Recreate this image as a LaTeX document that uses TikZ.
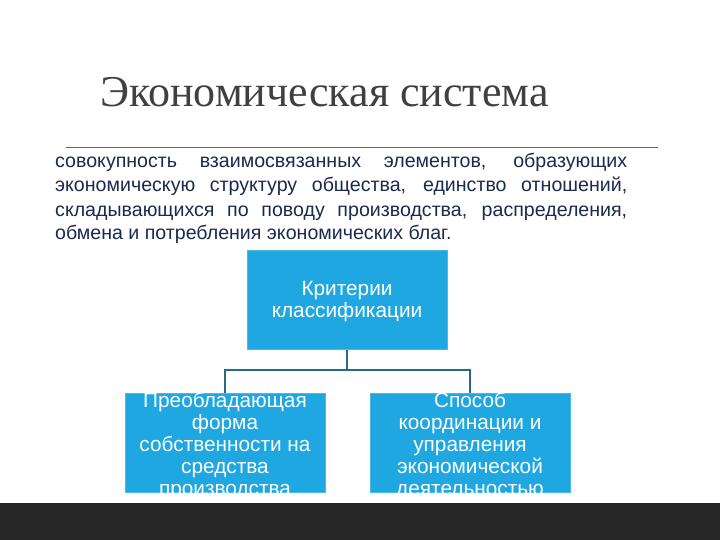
\documentclass[tikz,border=0pt]{standalone}
\usepackage{fontspec}
\setmainfont{Liberation Serif}
\newfontfamily\arialfont{Liberation Sans}
\definecolor{titlegray}{RGB}{64,64,64}
\definecolor{navytext}{RGB}{28,42,78}
\definecolor{boxblue}{RGB}{30,167,225}
\definecolor{linkcol}{RGB}{40,105,135}
\definecolor{barcol}{RGB}{38,38,38}
\tikzset{
  x=1pt,y=-1pt,
  titlestyle/.style={anchor=base west,inner sep=0pt,text=titlegray,font=\fontsize{44}{50}\selectfont},
  parline/.style={anchor=base west,inner sep=0pt,text=navytext,font=\arialfont\fontsize{19.6}{24}\selectfont},
  bluebox/.style={draw=boxblue!80!white,line width=0.6pt,fill=boxblue,minimum width=200pt,minimum height=99pt,inner sep=0pt},
  boxtext/.style={text=white,align=center,inner sep=0pt,font=\arialfont\fontsize{20.8}{22}\selectfont},
  link/.style={draw=linkcol,line width=1.5pt}
}
\begin{document}
\begin{tikzpicture}
\useasboundingbox (0,0) rectangle (720,540);
\fill[white] (0,0) rectangle (720,540);
\fill[barcol] (0,503) rectangle (720,540);
\node[titlestyle] (title) at (100,107) {Экономическая система};
\coordinate (ruleL) at (66,148);
\coordinate (ruleR) at (658,148);
\draw[draw=titlegray!80,line width=1pt] (ruleL) -- (ruleR);
\node[parline] (p1) at (55,168) {\makebox[572pt][s]{совокупность взаимосвязанных элементов, образующих}};
\node[parline] (p2) at (55,192) {\makebox[572pt][s]{экономическую структуру общества, единство отношений,}};
\node[parline] (p3) at (55,216) {\makebox[572pt][s]{складывающихся по поводу производства, распределения,}};
\node[parline] (p4) at (55,240) {обмена и потребления экономических благ.};
\node[bluebox] (top) at (347,300) {};
\node[boxtext] (toptext) at (347,302) {Критерии\\классификации};
\node[bluebox] (left) at (225,443) {};
\node[bluebox] (right) at (470,443) {};
\begin{scope}
\clip (left.south west) rectangle (left.north east);
\node[boxtext] (lefttext) at (225,446) {Преобладающая\\форма\\собственности на\\средства\\производства};
\end{scope}
\begin{scope}
\clip (right.south west) rectangle (right.north east);
\node[boxtext] (righttext) at (470,446) {Способ\\координации и\\управления\\экономической\\деятельностью};
\end{scope}
\coordinate (fork) at (347,370);
\draw[link] (top.south) -- (fork);
\draw[link] (fork) -| (left.north);
\draw[link] (fork) -| (right.north);
\end{tikzpicture}
\end{document}
